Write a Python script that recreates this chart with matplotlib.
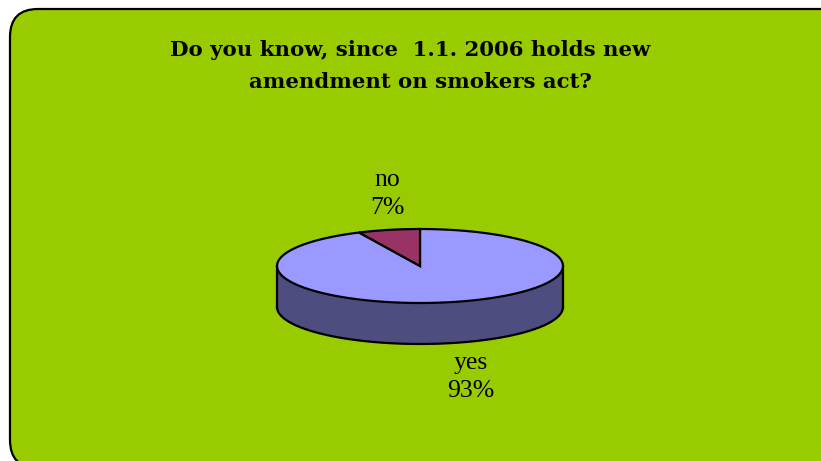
import numpy as np
import matplotlib
matplotlib.use("Agg")
import matplotlib.pyplot as plt
from matplotlib.patches import FancyBboxPatch, Polygon

# survey answers, clockwise from 12 o'clock
labels = ["yes", "no"]
shares = [93, 7]
top_colors = ["#9999ff", "#993366"]
side_colors = ["#4d4d80", "#4d1a33"]

title_lines = ["Do you know, since  1.1. 2006 holds new",
               "amendment on smokers act?"]

W, H = 821, 461
fig = plt.figure(figsize=(W / 100, H / 100), dpi=100)
fig.patch.set_facecolor("white")
ax = fig.add_axes([0, 0, 1, 1])
ax.set_xlim(0, W)
ax.set_ylim(H, 0)
ax.axis("off")

# green rounded panel, runs off the right and bottom edges
panel = FancyBboxPatch((10, 9), 840, 459, boxstyle="round,pad=0,rounding_size=28",
                       fc="#99cc00", ec="black", lw=1.6, zorder=0)
ax.add_patch(panel)

ax.text(410, 50, title_lines[0], ha="center", va="center", fontsize=15.3,
        fontweight="bold", family="DejaVu Serif")
ax.text(420, 82, title_lines[1], ha="center", va="center", fontsize=15.3,
        fontweight="bold", family="DejaVu Serif")

# 3d pie geometry (pixels)
cx, cy, a, b, depth = 420, 266, 143, 37, 41


def arc(t1, t2, n=200):
    t = np.radians(np.linspace(t1, t2, n))
    return cx + a * np.cos(t), cy - b * np.sin(t)


fracs = np.array(shares, float) / sum(shares)
bounds = 90 - 360 * np.concatenate([[0], np.cumsum(fracs)])

# side walls of the front half first
for i in range(len(shares)):
    hi, lo = bounds[i], bounds[i + 1]
    for base in (0, 360, -360):
        s1, s2 = max(lo, 180 + base - 360), min(hi, 360 + base - 360)
        if s2 > s1:
            x, y = arc(s1, s2)
            pts = np.column_stack([np.r_[x, x[::-1]], np.r_[y, y[::-1] + depth]])
            ax.add_patch(Polygon(pts, closed=True, fc=side_colors[i], ec="none", zorder=2))

# outline of the side wall
x, y = arc(180, 360)
ax.plot(x, y + depth, color="black", lw=1.6, zorder=3)
ax.plot([cx - a, cx - a], [cy, cy + depth], color="black", lw=1.6, zorder=3)
ax.plot([cx + a, cx + a], [cy, cy + depth], color="black", lw=1.6, zorder=3)

# top faces
for i in range(len(shares)):
    x, y = arc(bounds[i], bounds[i + 1])
    pts = np.column_stack([np.r_[cx, x, cx], np.r_[cy, y, cy]])
    ax.add_patch(Polygon(pts, closed=True, fc=top_colors[i], ec="black", lw=1.6,
                         joinstyle="miter", zorder=4))

# category / percent labels
label_pos = [(471, 377), (387, 194)]
for i, (lx, ly) in enumerate(label_pos):
    ax.text(lx, ly, f"{labels[i]}\n{shares[i]}%", ha="center", va="center",
            fontsize=18.5, family="Liberation Serif", linespacing=1.3, zorder=5)

fig.savefig("out.png", dpi=100, facecolor=fig.get_facecolor())
